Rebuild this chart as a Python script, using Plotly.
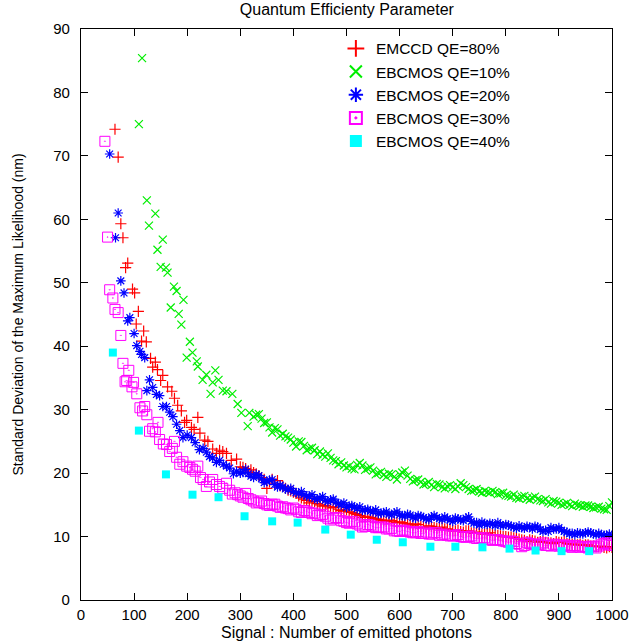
import plotly.graph_objects as go

# ---------------- data ----------------
emccd_x = [64, 70, 75, 79, 84, 88, 97, 101, 104, 108, 114, 118, 123, 131, 135, 140, 144, 150, 154, 163,
           171, 176, 182, 189, 195, 199, 208, 213, 220, 224, 233, 239, 248, 255, 261, 267, 274, 283, 293, 300,
           310, 320, 330, 340, 350, 360, 370, 380, 390, 400, 410, 420, 430, 440, 450, 460, 470, 480, 490, 500,
           510, 520, 530, 540, 550, 560, 570, 580, 590, 600, 610, 620, 630, 640, 650, 660, 670, 680, 690, 700,
           710, 720, 730, 740, 750, 760, 770, 780, 790, 800, 810, 820, 830, 840, 850, 860, 870, 880, 890, 900,
           910, 920, 930, 940, 950, 960, 970, 980, 990, 1000]
emccd_y = [74.2, 69.8, 59.3, 57.1, 52.4, 53.1, 49.0, 48.4, 43.5, 45.5, 40.8, 42.4, 40.7, 38.1, 36.7, 37.5, 36.3, 34.6, 35.4, 33.6,
           32.9, 31.8, 30.7, 29.8, 28.0, 28.3, 27.2, 26.9, 28.8, 26.3, 25.2, 25.0, 23.8, 23.1, 23.6, 23.4, 23.1, 22.0, 22.2, 21.0,
           20.7, 20.5, 19.9, 19.3, 17.6, 19.0, 18.8, 17.9, 17.3, 17.0, 16.4, 15.9, 15.3, 15.5, 15.0, 14.9, 14.5, 14.7, 14.1, 14.2,
           13.8, 13.5, 13.0, 13.2, 12.9, 12.7, 12.5, 12.6, 12.3, 12.3, 12.1, 11.9, 12.0, 11.6, 11.5, 11.6, 11.3, 11.5, 11.2, 10.9,
           11.0, 10.7, 10.9, 10.5, 10.6, 10.4, 10.6, 10.2, 10.1, 10.0, 9.9, 9.7, 9.5, 9.2, 9.4, 9.1, 9.2, 9.0, 8.9, 9.1,
           9.2, 8.8, 8.7, 8.8, 8.7, 8.5, 8.4, 8.5, 8.2, 8.3]
emccd_x2 = [305, 315, 325, 335, 345, 355, 365, 375, 385, 395, 405, 415, 425, 435, 445, 455, 465, 475, 485, 495,
            505, 515, 525, 535, 545, 555, 565, 575, 585, 595, 605, 615, 625, 635, 645, 655, 665, 675, 685, 695,
            705, 715, 725, 735, 745, 755, 765, 775, 785, 795, 805, 815, 825, 835, 845, 855, 865, 875, 885, 895,
            905, 915, 925, 935, 945, 955, 965, 975, 985, 995]
emccd_y2 = [20.9, 20.3, 20.1, 19.6, 19.0, 18.6, 18.3, 18.0, 17.6, 17.2, 16.8, 16.1, 15.7, 15.6, 15.2, 14.8, 14.7, 14.6, 14.3, 14.0,
            13.9, 13.6, 13.3, 13.1, 13.0, 12.8, 12.6, 12.4, 12.5, 12.2, 12.2, 12.0, 11.8, 11.9, 11.5, 11.7, 11.4, 11.4, 11.2, 11.1,
            10.9, 10.8, 10.9, 10.6, 10.7, 10.4, 10.5, 10.3, 10.2, 10.0, 9.9, 9.8, 9.6, 9.4, 9.5, 9.3, 9.2, 9.1, 9.0, 9.2,
            9.1, 8.9, 8.8, 8.7, 8.6, 8.7, 8.5, 8.4, 8.3, 8.4]

qe10_x = [109, 115, 124, 128, 140, 144, 150, 154, 160, 163, 169, 175, 180, 184, 189, 193, 199, 205, 210, 218,
          220, 229, 236, 244, 248, 253, 259, 267, 274, 285, 295, 302, 314, 317, 325, 330,
          340, 350, 360, 370, 380, 390, 400, 410, 420, 430, 440, 450, 460, 470, 480, 490, 500,
          510, 520, 530, 540, 550, 560, 570, 580, 590, 600, 610, 620, 630, 640, 650, 660, 670, 680, 690, 700,
          710, 720, 730, 740, 750, 760, 770, 780, 790, 800, 810, 820, 830, 840, 850, 860, 870, 880, 890, 900,
          910, 920, 930, 940, 950, 960, 970, 980, 990, 1000]
qe10_y = [75.0, 85.4, 63.0, 59.0, 60.9, 55.2, 52.5, 56.8, 52.4, 51.6, 46.1, 49.4, 48.7, 45.1, 43.4, 47.3, 38.2, 40.7, 39.0, 37.6,
          36.8, 34.7, 35.5, 32.5, 34.3, 36.2, 34.7, 33.0, 32.9, 32.5, 30.9, 29.5, 27.4, 29.5, 28.9, 29.2,
          28.6, 28.0, 26.4, 26.9, 26.2, 25.6, 24.8, 25.0, 24.3, 23.9, 23.6, 23.4, 22.6, 22.4, 21.9, 21.7, 20.9,
          20.7, 21.3, 21.2, 20.7, 20.4, 20.0, 19.7, 19.9, 19.4, 19.8, 20.4, 19.1, 18.9, 18.6, 18.3, 18.1, 18.3, 17.8, 17.9, 17.8,
          17.9, 18.1, 17.5, 17.3, 17.1, 17.2, 16.9, 17.0, 16.8, 16.5, 16.3, 16.1, 16.3, 16.0, 16.1, 15.9, 15.6, 15.4, 15.6, 15.3,
          15.1, 15.0, 15.2, 14.9, 14.9, 14.7, 14.6, 14.4, 14.2, 15.4]
qe10_x2 = [335, 345, 355, 365, 375, 385, 395, 405, 415, 425, 435, 445, 455, 465, 475, 485, 495,
           505, 515, 525, 535, 545, 555, 565, 575, 585, 595, 605, 615, 625, 635, 645, 655, 665, 675, 685, 695,
           705, 715, 725, 735, 745, 755, 765, 775, 785, 795, 805, 815, 825, 835, 845, 855, 865, 875, 885, 895,
           905, 915, 925, 935, 945, 955, 965, 975, 985, 995]
qe10_y2 = [29.3, 27.9, 27.2, 27.1, 25.9, 25.8, 25.3, 24.2, 24.9, 23.6, 24.0, 23.0, 22.9, 23.1, 22.0, 21.4, 21.2,
           21.1, 20.6, 21.6, 20.5, 20.9, 19.8, 20.2, 19.4, 19.8, 19.0, 20.1, 19.6, 18.7, 19.0, 18.2, 18.6, 17.8, 18.2, 17.6, 18.1,
           17.5, 18.4, 17.8, 17.2, 17.5, 16.9, 17.0, 17.2, 16.7, 16.9, 16.4, 16.6, 16.0, 16.4, 15.8, 16.3, 15.7, 15.9, 15.2, 15.5,
           15.0, 15.3, 14.8, 15.0, 14.7, 14.9, 14.5, 14.7, 14.3, 14.8]

qe20_x = [54, 65, 70, 75, 81, 88, 92, 100, 105, 111, 114, 120, 124, 129, 135, 142, 148, 154, 161, 167,
          173, 180, 186, 192, 200, 208, 215, 223, 230, 236, 242, 248, 255, 261, 268, 274, 280, 287, 293, 300,
          310, 320, 330, 340, 350, 360, 370, 380, 390, 400, 410, 420, 430, 440, 450, 460, 470, 480, 490, 500,
          510, 520, 530, 540, 550, 560, 570, 580, 590, 600, 610, 620, 630, 640, 650, 660, 670, 680, 690, 700,
          710, 720, 730, 740, 750, 760, 770, 780, 790, 800, 810, 820, 830, 840, 850, 860, 870, 880, 890, 900,
          910, 920, 930, 940, 950, 960, 970, 980, 990, 1000]
qe20_y = [70.3, 57.1, 61.0, 50.3, 48.4, 44.0, 44.5, 42.0, 40.1, 39.2, 38.7, 38.2, 33.0, 34.7, 33.5, 32.4, 32.2, 30.5, 30.5, 29.6,
          28.9, 27.7, 26.7, 25.6, 26.0, 25.6, 24.8, 23.7, 23.9, 23.3, 22.6, 22.4, 21.7, 22.0, 21.4, 21.1, 20.8, 19.9, 20.3, 20.0,
          20.6, 19.5, 19.8, 19.1, 18.7, 19.0, 17.8, 17.8, 17.4, 17.1, 16.8, 16.6, 16.3, 16.0, 16.1, 15.7, 15.8, 15.4, 15.0, 14.6,
          14.9, 14.4, 14.1, 14.3, 13.9, 13.6, 13.8, 13.5, 13.7, 13.4, 13.2, 13.4, 12.9, 13.2, 12.8, 13.1, 13.0, 12.7, 12.8, 12.4,
          12.8, 12.5, 13.1, 12.1, 11.8, 12.0, 12.1, 11.7, 11.8, 11.9, 11.6, 11.3, 11.4, 11.6, 11.2, 11.5, 10.8, 10.8, 11.2, 11.4,
          10.8, 10.4, 10.3, 10.5, 10.6, 10.6, 10.3, 10.3, 10.2, 10.2]
qe20_x2 = [305, 315, 325, 335, 345, 355, 365, 375, 385, 395, 405, 415, 425, 435, 445, 455, 465, 475, 485, 495,
           505, 515, 525, 535, 545, 555, 565, 575, 585, 595, 605, 615, 625, 635, 645, 655, 665, 675, 685, 695,
           705, 715, 725, 735, 745, 755, 765, 775, 785, 795, 805, 815, 825, 835, 845, 855, 865, 875, 885, 895,
           905, 915, 925, 935, 945, 955, 965, 975, 985, 995]
qe20_y2 = [20.1, 19.9, 19.3, 19.6, 18.5, 18.9, 18.2, 18.1, 17.5, 17.6, 16.9, 17.1, 16.4, 16.6, 15.9, 16.3, 15.5, 15.9, 15.2, 15.3,
           14.8, 14.6, 14.7, 14.2, 14.0, 14.2, 13.7, 13.9, 13.4, 13.9, 13.3, 13.5, 13.0, 13.3, 13.0, 12.7, 13.3, 12.8, 13.1, 12.6,
           12.9, 12.6, 12.9, 12.4, 12.2, 12.3, 11.9, 12.0, 12.2, 11.7, 11.8, 11.5, 11.7, 11.3, 11.5, 11.6, 11.1, 11.0, 11.4, 11.2,
           11.0, 10.7, 10.5, 10.6, 10.4, 10.7, 10.4, 10.5, 10.2, 10.4]

qe30_x = [45, 50, 54, 60, 64, 70, 75, 79, 83, 86, 90, 96, 99, 105, 111, 116, 120, 124, 129, 135,
          140, 145, 148, 155, 161, 167, 172, 176, 180, 186, 192, 199, 205, 210, 215, 220, 225, 230, 236, 242,
          248, 255, 261, 267, 274, 280, 285, 290, 295, 300,
          310, 320, 330, 340, 350, 360, 370, 380, 390, 400, 410, 420, 430, 440, 450, 460, 470, 480, 490, 500,
          510, 520, 530, 540, 550, 560, 570, 580, 590, 600, 610, 620, 630, 640, 650, 660, 670, 680, 690, 700,
          710, 720, 730, 740, 750, 760, 770, 780, 790, 800, 810, 820, 830, 840, 850, 860, 870, 880, 890, 900,
          910, 920, 930, 940, 950, 960, 970, 980, 990, 1000]
qe30_y = [72.3, 57.2, 48.9, 47.6, 45.8, 45.3, 41.7, 37.3, 34.4, 34.6, 36.2, 33.6, 34.3, 32.5, 30.3, 29.8, 30.5, 29.2, 26.6, 27.0,
          26.5, 28.0, 25.3, 24.6, 24.5, 23.4, 23.9, 25.0, 22.5, 21.4, 21.8, 21.1, 20.9, 20.6, 20.3, 21.1, 19.3, 19.0, 17.9, 18.6,
          19.0, 18.2, 17.9, 17.6, 18.4, 17.3, 16.7, 16.9, 16.6, 16.4,
          16.8, 15.8, 15.3, 15.6, 15.0, 15.1, 14.8, 14.7, 14.4, 14.5, 13.9, 14.1, 13.8, 13.7, 13.4, 13.2, 12.6, 13.0, 12.5, 12.2,
          12.4, 12.0, 11.5, 11.9, 11.6, 11.4, 11.5, 11.2, 10.9, 10.8, 11.0, 10.7, 10.6, 10.5, 10.7, 10.4, 10.6, 10.3, 10.2, 10.1,
          10.3, 9.9, 10.0, 9.8, 9.7, 9.8, 9.5, 9.5, 9.4, 9.2, 9.3, 8.9, 8.4, 9.1, 8.8, 8.7, 9.0, 8.6, 8.8, 8.5,
          8.7, 8.4, 8.6, 8.3, 8.4, 8.5, 8.2, 8.7, 9.0, 8.6]
qe30_x2 = [305, 315, 325, 335, 345, 355, 365, 375, 385, 395, 405, 415, 425, 435, 445, 455, 465, 475, 485, 495,
           505, 515, 525, 535, 545, 555, 565, 575, 585, 595, 605, 615, 625, 635, 645, 655, 665, 675, 685, 695,
           705, 715, 725, 735, 745, 755, 765, 775, 785, 795, 805, 815, 825, 835, 845, 855, 865, 875, 885, 895,
           905, 915, 925, 935, 945, 955, 965, 975, 985, 995]
qe30_y2 = [16.2, 16.0, 15.6, 15.4, 15.2, 14.9, 15.1, 14.6, 14.5, 14.2, 14.3, 13.8, 14.0, 13.6, 13.3, 13.5, 12.9, 12.8, 12.9, 12.4,
           12.1, 12.3, 11.8, 11.6, 11.8, 11.4, 11.5, 11.2, 11.3, 10.9, 11.0, 10.8, 10.6, 10.8, 10.5, 10.4, 10.6, 10.2, 10.4, 10.1,
           10.2, 10.0, 9.9, 10.1, 9.7, 9.8, 9.6, 9.4, 9.5, 9.3, 9.1, 9.2, 8.8, 8.6, 8.9, 8.7, 8.8, 8.6, 8.5, 8.7,
           8.5, 8.6, 8.3, 8.5, 8.4, 8.2, 8.4, 8.5, 8.9, 8.7]

qe40_x = [60, 109, 160, 210, 259, 308, 360, 408, 460, 508, 557, 606, 658, 705, 756, 807, 856, 905, 957]
qe40_y = [39.0, 26.7, 19.8, 16.6, 16.2, 13.2, 12.4, 12.2, 11.1, 10.3, 9.5, 9.1, 8.4, 8.4, 8.3, 8.1, 7.8, 7.7, 7.7]

names = ["EMCCD QE=80%", "EBCMOS QE=10%", "EBCMOS QE=20%", "EBCMOS QE=30%", "EBCMOS QE=40%"]
# ---------------------------------------------------------------

FONT = "Liberation Sans, Arial, Helvetica, sans-serif"

fig = go.Figure()
fig.add_trace(go.Scatter(x=emccd_x + emccd_x2, y=emccd_y + emccd_y2, mode="markers", name=names[0],
                         marker=dict(symbol="cross-thin", size=8, line=dict(color="#ff0000", width=1.2))))
fig.add_trace(go.Scatter(x=qe10_x + qe10_x2, y=qe10_y + qe10_y2, mode="markers", name=names[1],
                         marker=dict(symbol="x-thin", size=8, line=dict(color="#00ee00", width=1.2))))
fig.add_trace(go.Scatter(x=qe20_x + qe20_x2, y=qe20_y + qe20_y2, mode="markers", name=names[2],
                         marker=dict(symbol="asterisk", size=8, line=dict(color="#0000ff", width=1.2))))
fig.add_trace(go.Scatter(x=qe30_x + qe30_x2, y=qe30_y + qe30_y2, mode="markers", name=names[3],
                         marker=dict(symbol="square-open-dot", size=10, color="#ff00ff", line=dict(color="#ff00ff", width=1))))
fig.add_trace(go.Scatter(x=qe40_x, y=qe40_y, mode="markers", name=names[4],
                         marker=dict(symbol="square", size=8, color="#00ffff", line=dict(width=0))))

axis_common = dict(showline=True, linecolor="black", linewidth=1.2, mirror="ticks",
                   ticks="inside", ticklen=7, tickwidth=1, tickcolor="black",
                   showgrid=False, zeroline=False, automargin=False,
                   tickfont=dict(family=FONT, size=15, color="black"))

fig.update_layout(
    width=633, height=643,
    paper_bgcolor="white", plot_bgcolor="white",
    margin=dict(l=81, r=21, t=29, b=43),
    font=dict(family=FONT, size=15, color="black"),
    title=dict(text="Quantum Efficienty Parameter", x=0.548, xanchor="center",
               y=0.986, yanchor="middle", yref="container", pad=dict(t=0, b=0),
               font=dict(family=FONT, size=16, color="black")),
    xaxis=dict(range=[0, 1000], dtick=100, tick0=0, ticklabelstandoff=1,
               title=dict(text="Signal : Number of emitted photons", standoff=4,
                          font=dict(family=FONT, size=16)),
               **axis_common),
    yaxis=dict(range=[0, 90], dtick=10, tick0=0, ticklabelstandoff=7,
               title=dict(text="Standard Deviation of the Maximum Likelihood (nm)", standoff=26,
                          font=dict(family=FONT, size=14)),
               **axis_common),
    legend=dict(x=0.48, xanchor="left", y=0.995, yanchor="top",
                bgcolor="rgba(0,0,0,0)", borderwidth=0,
                font=dict(family=FONT, size=15.5, color="black"),
                itemsizing="constant", tracegroupgap=0),
    showlegend=True,
)

fig.write_html("out.html", config={"displayModeBar": False},
               post_script="document.body.style.margin='0px';")
